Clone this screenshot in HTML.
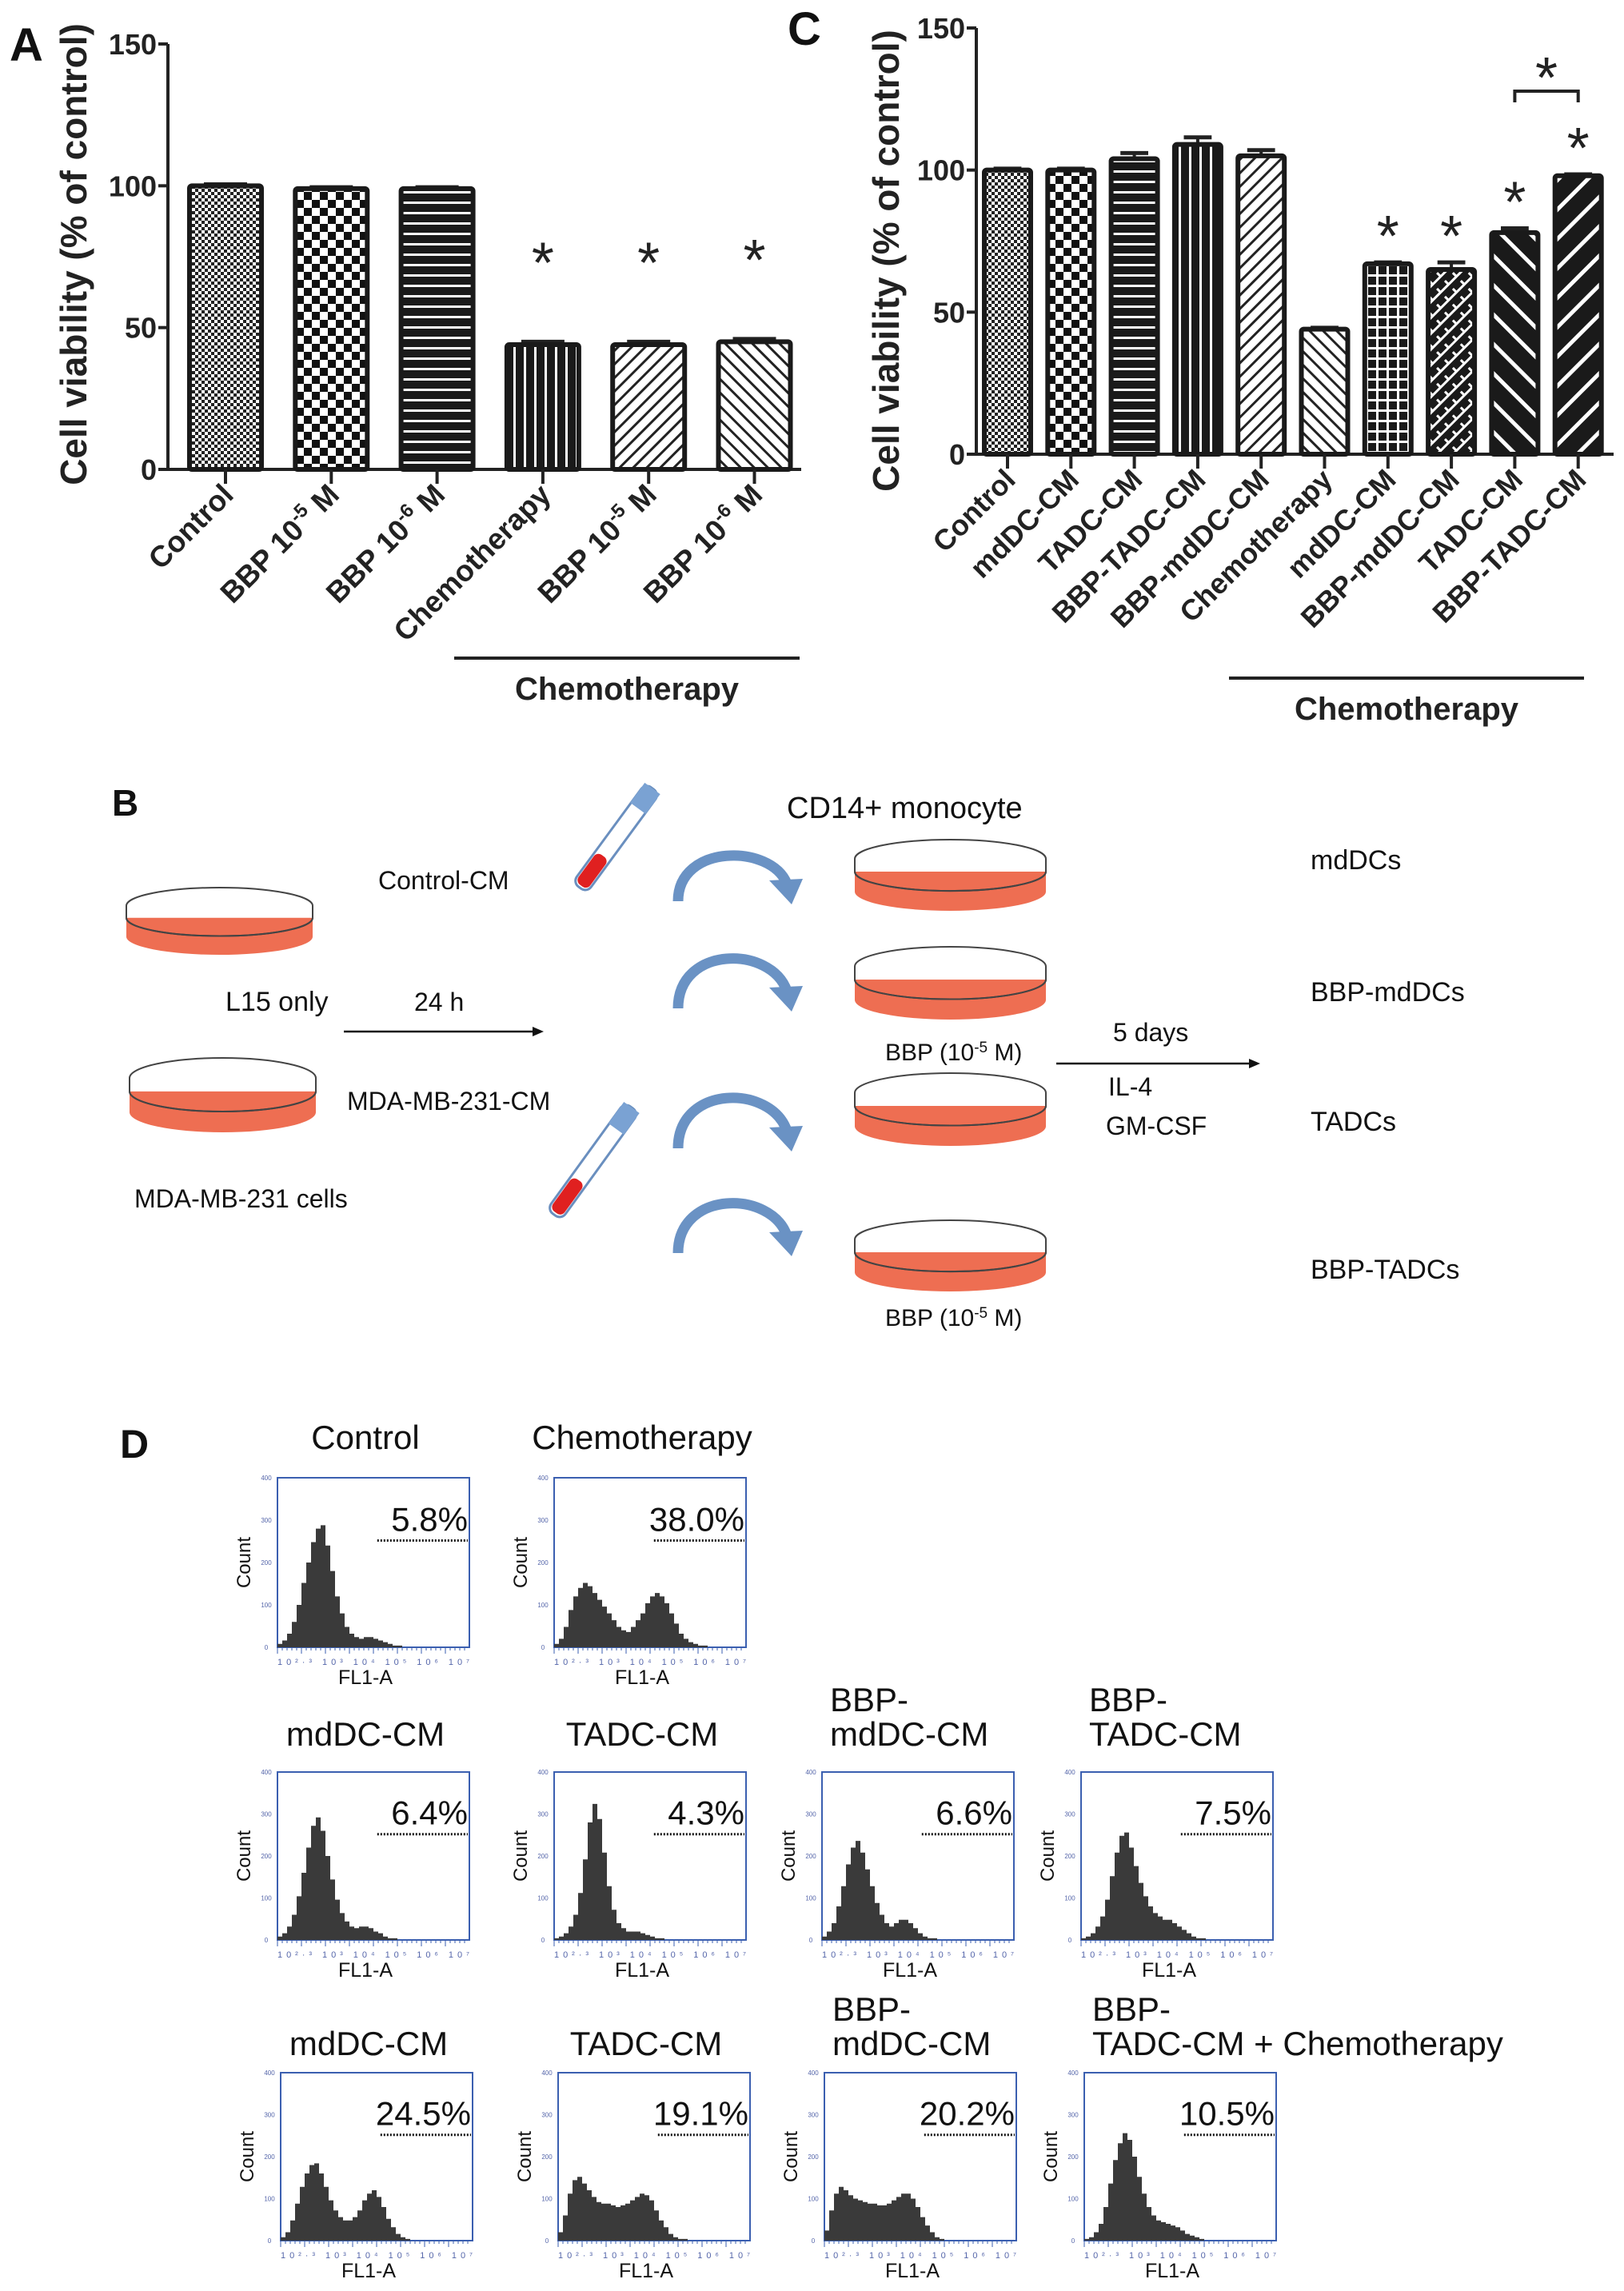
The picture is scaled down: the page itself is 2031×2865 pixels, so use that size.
<!DOCTYPE html>
<html><head><meta charset="utf-8"><style>
html,body{margin:0;padding:0;background:#fff}
svg{display:block}
text{font-family:"Liberation Sans",Arial,sans-serif}
</style></head><body>
<svg id="fig" width="2031" height="2865" viewBox="0 0 2031 2865" xmlns="http://www.w3.org/2000/svg">
<defs>
<pattern id="pFineChk" width="8" height="8" patternUnits="userSpaceOnUse"><rect width="8" height="8" fill="#fff"/><rect width="4" height="4" fill="#222"/><rect x="4" y="4" width="4" height="4" fill="#222"/></pattern>
<pattern id="pBigChk" width="20" height="20" patternUnits="userSpaceOnUse"><rect width="20" height="20" fill="#fff"/><rect width="10" height="10" fill="#111"/><rect x="10" y="10" width="10" height="10" fill="#111"/></pattern>
<pattern id="pHor" width="13" height="13" patternUnits="userSpaceOnUse"><rect width="13" height="13" fill="#1a1a1a"/><rect y="5" width="13" height="3" fill="#fff"/></pattern>
<pattern id="pVer" width="13" height="13" patternUnits="userSpaceOnUse"><rect width="13" height="13" fill="#1a1a1a"/><rect x="5" width="3" height="13" fill="#fff"/></pattern>
<pattern id="pDiagF" width="12" height="12" patternUnits="userSpaceOnUse" patternTransform="rotate(45)"><rect width="12" height="12" fill="#fff"/><rect width="3" height="12" fill="#222"/></pattern>
<pattern id="pDiagB" width="12" height="12" patternUnits="userSpaceOnUse" patternTransform="rotate(-45)"><rect width="12" height="12" fill="#fff"/><rect width="3" height="12" fill="#222"/></pattern>
<pattern id="pGrid" width="13" height="13" patternUnits="userSpaceOnUse"><rect width="13" height="13" fill="#1a1a1a"/><rect x="5" width="3" height="13" fill="#fff"/><rect y="5" width="13" height="3" fill="#fff"/></pattern>
<pattern id="pZig" width="14" height="14" patternUnits="userSpaceOnUse" patternTransform="rotate(45)"><rect width="14" height="14" fill="#1a1a1a"/><rect x="5" width="3" height="14" fill="#fff"/><rect y="5" width="7" height="3" fill="#fff"/></pattern>
<pattern id="pWideB" width="26" height="26" patternUnits="userSpaceOnUse" patternTransform="rotate(-45)"><rect width="26" height="26" fill="#1a1a1a"/><rect width="5" height="26" fill="#fff"/></pattern>
<pattern id="pWideF" width="26" height="26" patternUnits="userSpaceOnUse" patternTransform="rotate(45)"><rect width="26" height="26" fill="#1a1a1a"/><rect width="5" height="26" fill="#fff"/></pattern>
</defs>
<g id="panelA"></g>
<g id="panelC"></g>
<g id="panelB"></g>
<g id="panelD"></g>
</svg>
<script>
const NS="http://www.w3.org/2000/svg";
// Panel A data
const aCategories=["Control","BBP 10-5 M","BBP 10-6 M","Chemotherapy","BBP 10-5 M","BBP 10-6 M"];
const aValues=[100,99,99,44,44,45];
const aErrors=[0.5,0.5,0.5,1,1,1];
const aStars=[false,false,false,true,true,true];
const aTicks=[0,50,100,150];
// Panel C data
const cCategories=["Control","mdDC-CM","TADC-CM","BBP-TADC-CM","BBP-mdDC-CM","Chemotherapy","mdDC-CM","BBP-mdDC-CM","TADC-CM","BBP-TADC-CM"];
const cValues=[100,100,104,109,105,44,67,65,78,98];
const cErrors=[0.5,0.5,2,2.5,2,0.5,0.5,2.5,1.5,0.5];
const cStars=[false,false,false,false,false,false,true,true,true,true];
const cTicks=[0,50,100,150];
// Panel D data (histogram bin heights as fraction of max count)
const dTitles=["Control","Chemotherapy","mdDC-CM","TADC-CM","BBP-\nmdDC-CM","BBP-\nTADC-CM","mdDC-CM","TADC-CM","BBP-\nmdDC-CM","BBP-\nTADC-CM + Chemotherapy"];
const dPercents=["5.8%","38.0%","6.4%","4.3%","6.6%","7.5%","24.5%","19.1%","20.2%","10.5%"];
const hControl=[0.02,0.04,0.08,0.15,0.25,0.38,0.5,0.62,0.7,0.72,0.6,0.45,0.3,0.2,0.12,0.08,0.06,0.05,0.06,0.06,0.05,0.04,0.03,0.02,0.01,0.01,0,0,0,0,0,0,0,0];
const hChemo=[0.02,0.05,0.12,0.22,0.3,0.35,0.38,0.36,0.32,0.28,0.24,0.2,0.16,0.12,0.1,0.09,0.12,0.16,0.2,0.26,0.3,0.32,0.3,0.26,0.2,0.14,0.08,0.05,0.03,0.02,0.01,0.01,0,0];
const hMd=[0.02,0.04,0.08,0.15,0.26,0.4,0.55,0.68,0.73,0.65,0.5,0.36,0.24,0.16,0.11,0.08,0.07,0.08,0.08,0.07,0.05,0.04,0.02,0.01,0.01,0,0,0,0,0,0,0,0,0];
const hTa=[0.01,0.02,0.04,0.08,0.15,0.28,0.48,0.7,0.81,0.72,0.52,0.32,0.18,0.1,0.07,0.05,0.05,0.05,0.04,0.03,0.02,0.01,0.01,0,0,0,0,0,0,0,0,0,0,0];
const hBmd=[0.02,0.05,0.1,0.2,0.32,0.45,0.55,0.59,0.52,0.42,0.32,0.22,0.15,0.1,0.08,0.1,0.12,0.12,0.1,0.07,0.04,0.02,0.01,0.01,0,0,0,0,0,0,0,0,0,0];
const hBta=[0.01,0.02,0.04,0.08,0.14,0.24,0.38,0.52,0.62,0.64,0.55,0.44,0.34,0.26,0.2,0.16,0.14,0.12,0.12,0.1,0.08,0.06,0.04,0.02,0.01,0.01,0,0,0,0,0,0,0,0];
const hMdC=[0.02,0.05,0.12,0.22,0.32,0.4,0.45,0.46,0.4,0.32,0.24,0.18,0.14,0.12,0.12,0.14,0.18,0.24,0.28,0.3,0.26,0.2,0.13,0.08,0.04,0.02,0.01,0,0,0,0,0,0,0];
const hTaC=[0.05,0.15,0.28,0.36,0.38,0.34,0.3,0.26,0.23,0.22,0.22,0.21,0.2,0.21,0.22,0.24,0.26,0.28,0.27,0.24,0.18,0.12,0.08,0.04,0.02,0.01,0.01,0,0,0,0,0,0,0];
const hBmdC=[0.06,0.18,0.28,0.32,0.3,0.27,0.25,0.24,0.23,0.22,0.22,0.21,0.21,0.22,0.24,0.26,0.28,0.28,0.25,0.2,0.14,0.09,0.05,0.02,0.01,0,0,0,0,0,0,0,0,0];
const hBtaC=[0.01,0.02,0.05,0.1,0.2,0.34,0.48,0.58,0.64,0.6,0.5,0.38,0.28,0.2,0.15,0.12,0.11,0.1,0.09,0.08,0.06,0.04,0.03,0.02,0.01,0,0,0,0,0,0,0,0,0];
const dHists=[hControl,hChemo,hMd,hTa,hBmd,hBta,hMdC,hTaC,hBmdC,hBtaC];

function el(tag,attrs,parent,txt){const e=document.createElementNS(NS,tag);for(const k in attrs)e.setAttribute(k,attrs[k]);if(txt!==undefined)e.textContent=txt;if(parent)parent.appendChild(e);return e;}

function labelText(g,x,y,label,size,rot){
  const t=el("text",{x:x,y:y,"text-anchor":"end","font-size":size,"font-weight":"bold",fill:"#222",transform:`rotate(${rot} ${x} ${y})`},g);
  const m=label.match(/^(BBP 10)(-\d)( M)$/);
  if(m){el("tspan",{},t,m[1]);el("tspan",{dy:-size*0.4,"font-size":size*0.65},t,m[2]);el("tspan",{dy:size*0.4},t,m[3]);}
  else t.textContent=label;
  return t;
}

function barChart(gid,cfg){
  const g=document.getElementById(gid);
  const y=v=>cfg.y0-(v/150)*(cfg.y0-cfg.y150);
  const x=i=>cfg.x0+i*cfg.pitch;
  const ax=el("line",{x1:cfg.ax,y1:cfg.y150,x2:cfg.ax,y2:cfg.y0,stroke:"#222","stroke-width":4},g);
  
  const xa=el("line",{x1:cfg.ax-10,y1:cfg.y0,x2:cfg.xEnd,y2:cfg.y0,stroke:"#222","stroke-width":4},g);
  
  cfg.ticks.forEach(t=>{
    el("line",{x1:cfg.ax-12,y1:y(t),x2:cfg.ax,y2:y(t),stroke:"#222","stroke-width":4},g);
    const tl=el("text",{x:cfg.ax-14,y:y(t)+13,"text-anchor":"end","font-size":cfg.tickSize,"font-weight":"bold",fill:"#222"},g,String(t));
    
  });
  cfg.values.forEach((v,i)=>{
    const cx=x(i),w=cfg.bw;
    const eb=el("g",{},g);
    el("line",{x1:cx,y1:y(v),x2:cx,y2:y(v+cfg.errors[i]),stroke:"#222","stroke-width":4},eb);
    el("line",{x1:cx-w*0.3,y1:y(v+cfg.errors[i]),x2:cx+w*0.3,y2:y(v+cfg.errors[i]),stroke:"#222","stroke-width":5},eb);
    
    const r=el("rect",{x:cx-w/2,y:y(v),width:w,height:y(0)-y(v),fill:`url(#${cfg.patterns[i]})`,stroke:"#1a1a1a","stroke-width":6,rx:3},g);
    
    el("line",{x1:cx,y1:cfg.y0,x2:cx,y2:cfg.y0+18,stroke:"#222","stroke-width":4},g);
    const lb=labelText(g,cx+12,cfg.y0+34,cfg.cats[i],cfg.labSize,-45);
    
    if(cfg.stars[i]){
      const s=el("text",{x:cx,y:y(v+cfg.errors[i])-cfg.starGap,"text-anchor":"middle","font-size":72,fill:"#222"},g,"*");
      
    }
  });
  const yt=el("text",{x:cfg.titleX,y:cfg.titleY,"text-anchor":"middle","font-size":cfg.titleSize,"font-weight":"bold",fill:"#222",transform:`rotate(-90 ${cfg.titleX} ${cfg.titleY})`},g,"Cell viability (% of control)");
  
  const cl=el("line",{x1:cfg.chemoX1,y1:cfg.chemoY,x2:cfg.chemoX2,y2:cfg.chemoY,stroke:"#222","stroke-width":4},g);
  
  const ct=el("text",{x:(cfg.chemoX1+cfg.chemoX2)/2,y:cfg.chemoY+52,"text-anchor":"middle","font-size":40,"font-weight":"bold",fill:"#222"},g,"Chemotherapy");
  
  const pl=el("text",{x:cfg.letterX,y:cfg.letterY,"font-size":58,"font-weight":"bold",fill:"#111"},g,cfg.letter);
  
  return {x,y,g};
}

barChart("panelA",{y0:587,y150:55,ax:210,x0:282,pitch:132.3,bw:90,xEnd:1002,values:aValues,errors:aErrors,cats:aCategories,stars:aStars,ticks:aTicks,
  patterns:["pFineChk","pBigChk","pHor","pVer","pDiagF","pDiagB"],tickSize:36,labSize:37,starGap:74,titleX:108,titleY:318,titleSize:46,
  chemoX1:568,chemoX2:1000,chemoY:823,letter:"A",letterX:12,letterY:76});
const C=barChart("panelC",{y0:568,y150:35,ax:1221,x0:1260,pitch:79.3,bw:58,xEnd:2018,values:cValues,errors:cErrors,cats:cCategories,stars:cStars,ticks:cTicks,
  patterns:["pFineChk","pBigChk","pHor","pVer","pDiagF","pDiagB","pGrid","pZig","pWideB","pWideF"],tickSize:36,labSize:36,starGap:8,titleX:1124,titleY:326,titleSize:46,
  chemoX1:1537,chemoX2:1981,chemoY:848,letter:"C",letterX:985,letterY:56});
(function(){
  const g=document.getElementById("panelC");
  const x1=C.x(8),x2=C.x(9),yb=114;
  const br=el("path",{d:`M${x1} ${yb+14} L${x1} ${yb} L${x2} ${yb} L${x2} ${yb+14}`,fill:"none",stroke:"#222","stroke-width":4},g);
  
  const s=el("text",{x:(x1+x2)/2,y:yb+8,"text-anchor":"middle","font-size":72,fill:"#222"},g,"*");
  
})();

// Panel B schematic
(function(){
  const g=document.getElementById("panelB");
  const T=(x,y,s,txt,name,extra)=>{const t=el("text",Object.assign({x:x,y:y,"font-size":s,fill:"#111"},extra||{}),g,txt);return t;};
  T(140,1020,46,"B","panel-letter-b",{"font-weight":"bold"});
  function dish(x1,y1,x2,y2,name){
    const d=el("g",{},g);
    const cx=(x1+x2)/2,rx=(x2-x1)/2,h=y2-y1,ry=h*0.27;
    el("ellipse",{cx:cx,cy:y2-ry,rx:rx,ry:ry,fill:"#ee6e52"},d);
    el("rect",{x:x1,y:y1+ry+h*0.12,width:x2-x1,height:h-2*ry-h*0.12,fill:"#ee6e52"},d);
    el("ellipse",{cx:cx,cy:y1+ry+h*0.18,rx:rx,ry:ry,fill:"#ee6e52",stroke:"#444","stroke-width":2},d);
    el("path",{d:`M${x1} ${y1+ry+h*0.18} L${x1} ${y1+ry} A${rx} ${ry} 0 0 1 ${x2} ${y1+ry} L${x2} ${y1+ry+h*0.18}`,fill:"#fff",stroke:"#444","stroke-width":2},d);
    el("path",{d:`M${x1} ${y1+ry+h*0.18} A${rx} ${ry} 0 0 0 ${x2} ${y1+ry+h*0.18}`,fill:"none",stroke:"#444","stroke-width":2},d);
  }
  dish(158,1110,391,1194,"dish-l15");
  dish(162,1323,395,1416,"dish-mda-mb-231");
  dish(1069,1050,1308,1139,"dish-mddcs");
  dish(1069,1184,1308,1275,"dish-bbp-mddcs");
  dish(1069,1342,1308,1433,"dish-tadcs");
  dish(1069,1526,1308,1615,"dish-bbp-tadcs");
  function tube(x1,y1,x2,y2,name){
    const t=el("g",{},g);
    const ang=Math.atan2(y2-y1,x2-x1)*180/Math.PI,len=Math.hypot(x2-x1,y2-y1);
    const gg=el("g",{transform:`translate(${x1} ${y1}) rotate(${ang})`},t);
    el("rect",{x:0,y:-11,width:len,height:22,rx:9,fill:"#fff",stroke:"#6a8fbf","stroke-width":3},gg);
    el("rect",{x:0,y:-12,width:len*0.2,height:24,fill:"#7aa2d3"},gg);
    el("rect",{x:len*0.68,y:-9,width:len*0.3,height:18,rx:7,fill:"#e02020"},gg);
  }
  tube(816,986,725,1110,"tube-control-cm");
  tube(790,1385,693,1519,"tube-mda-cm");
  function curve(x1,y1,x2,y2,name){
    const c=el("g",{},g);
    el("path",{d:`M${x1} ${y2} C${x1} ${y1-10} ${x2-40} ${y1-10} ${x2-20} ${y2-22}`,fill:"none",stroke:"#6a92c4","stroke-width":13},c);
    el("path",{d:`M${x2-42} ${y2-26} L${x2} ${y2-28} L${x2-14} ${y2+4} Z`,fill:"#6a92c4"},c);
  }
  curve(848,1065,1004,1127,"curved-arrow-1");
  curve(848,1192,1004,1261,"curved-arrow-2");
  curve(848,1366,1004,1436,"curved-arrow-3");
  curve(848,1498,1004,1567,"curved-arrow-4");
  T(984,1023,38,"CD14+ monocyte","cd14-monocyte-label");
  T(473,1112,32,"Control-CM","control-cm-label");
  T(282,1264,34,"L15 only","l15-only-label");
  T(518,1264,32,"24 h","24h-label",{"font-family":"Liberation Serif, serif"});
  el("line",{x1:430,y1:1290,x2:670,y2:1290,stroke:"#111","stroke-width":2.5},g);
  el("path",{d:"M680 1290 L666 1284 L666 1296 Z",fill:"#111"},g);
  T(434,1388,32,"MDA-MB-231-CM","mda-mb-231-cm-label");
  T(168,1510,32,"MDA-MB-231  cells","mda-mb-231-cells-label");
  function bbp(x,y,name){const t=el("text",{x:x,y:y,"font-size":30,fill:"#111"},g);el("tspan",{},t,"BBP (10");el("tspan",{dy:-10,"font-size":19},t,"-5");el("tspan",{dy:10},t," M)");}
  bbp(1107,1326,"bbp-label-1");bbp(1107,1658,"bbp-label-2");
  T(1392,1302,32,"5 days","5-days-label");
  el("line",{x1:1321,y1:1330,x2:1564,y2:1330,stroke:"#111","stroke-width":2.5},g);
  el("path",{d:"M1576 1330 L1562 1324 L1562 1336 Z",fill:"#111"},g);
  T(1386,1370,32,"IL-4","il4-label");
  T(1383,1419,32,"GM-CSF","gm-csf-label");
  T(1639,1087,34,"mdDCs","mddcs-label");
  T(1639,1252,34,"BBP-mdDCs","bbp-mddcs-label");
  T(1639,1414,34,"TADCs","tadcs-label");
  T(1639,1599,34,"BBP-TADCs","bbp-tadcs-label");
})();

// Panel D histograms
(function(){
  const g=document.getElementById("panelD");
  const dl=el("text",{x:150,y:1823,"font-size":50,"font-weight":"bold",fill:"#111"},g,"D");
  
  const boxX=[[347,693],[347,693,1028,1352],[351,698,1031,1356]];
  const boxY=[[1848,2060],[2216,2426],[2592,2802]];
  const titleY=[1812,2183,2570];
  let k=0;
  boxX.forEach((row,r)=>{
    row.forEach((bx,c)=>{
      const idx=k++;
      const w=240,y0=boxY[r][0],y1=boxY[r][1],h=y1-y0;
      const pg=el("g",{},g);
      el("rect",{x:bx,y:y0,width:w,height:h,fill:"#fff",stroke:"#3b5fb0","stroke-width":2},pg);
      const bins=dHists[idx],bw=w/40;
      let d=`M${bx} ${y1}`;
      bins.forEach((v,i)=>{d+=` L${bx+i*bw} ${y1-v*h} L${bx+(i+1)*bw} ${y1-v*h}`;});
      d+=` L${bx+bins.length*bw} ${y1} Z`;
      const hp=el("path",{d:d,fill:"#3a3a3a"},pg);
      
      for(let i=0;i<=4;i++){el("text",{x:bx-14,y:y1-i*h/4+3,"font-size":8,fill:"#5566aa","text-anchor":"middle"},pg,String(i*100));}
      for(let i=0;i<40;i++){el("line",{x1:bx+i*6,y1:y1,x2:bx+i*6,y2:y1+(i%5?4:8),stroke:"#3b5fb0","stroke-width":1},pg);}
      el("text",{x:bx+w/2,y:y1+22,"font-size":11,fill:"#5566aa","text-anchor":"middle","textLength":w,"lengthAdjust":"spacing"},pg,"10²·³  10³  10⁴  10⁵  10⁶  10⁷");
      const cnt=el("text",{x:bx-34,y:y0+h/2,"font-size":24,fill:"#111","text-anchor":"middle",transform:`rotate(-90 ${bx-34} ${y0+h/2})`},pg,"Count");
      
      const fl=el("text",{x:bx+w/2-10,y:y1+46,"font-size":25,fill:"#111","text-anchor":"middle"},pg,"FL1-A");
      
      const dyLine=y0+h*0.37;
      el("line",{x1:bx+w*0.52,y1:dyLine,x2:bx+w-2,y2:dyLine,stroke:"#111","stroke-width":3,"stroke-dasharray":"2 2"},pg);
      const pt=el("text",{x:bx+w-2,y:dyLine-12,"font-size":42,fill:"#111","text-anchor":"end"},pg,dPercents[idx]);
      
      const lines=dTitles[idx].split("\n");
      const tt=el("text",{x:lines.length>1?bx+10:bx+w/2-10,y:titleY[r],"font-size":42,fill:"#111","text-anchor":lines.length>1?"start":"middle"},pg);
      lines.forEach((ln,li)=>{el("tspan",{x:lines.length>1?bx+10:bx+w/2-10,dy:li===0?(lines.length>1?-43:0):43},tt,ln);});
      
    });
  });
})();
</script>
</body></html>
